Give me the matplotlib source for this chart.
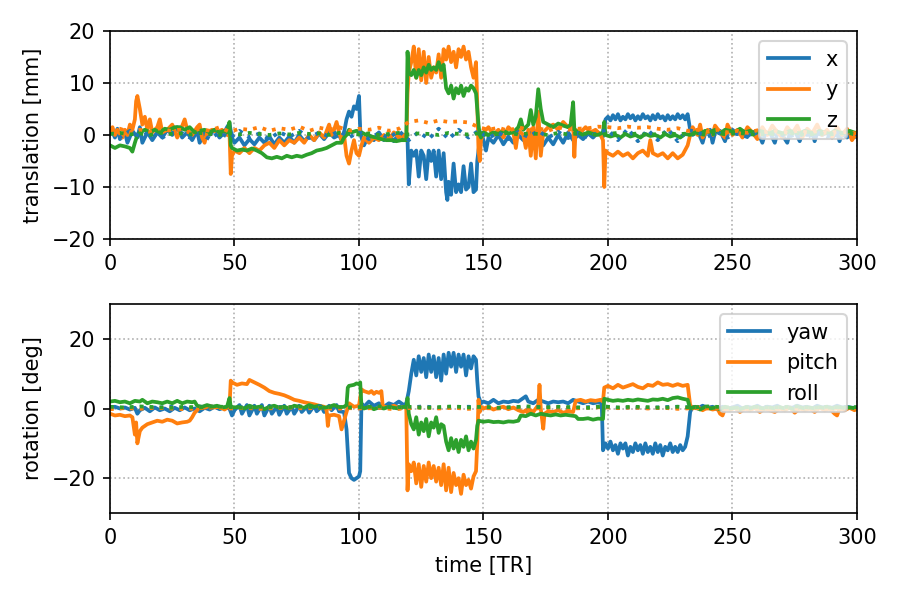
import numpy as np
import matplotlib
matplotlib.use('Agg')
import matplotlib.pyplot as plt

# estimated translation (time [TR], value [mm])
x_pts = [(0, 1.0), (1, 0.5), (2, -0.5), (3, 1.2), (4, -0.8), (6, 0.5), (7, -1.5), (9, 0.8), (11, -0.5),
         (12, 1.5), (13, -1.5), (15, 0.5), (17, -1.0), (19, 0.5), (21, -0.5), (23, 1.0), (25, 0.0),
         (27, 1.5), (29, -0.5), (31, 0.5), (33, -1.0), (35, 0.8), (36, -1.5), (38, 0.5), (40, 0.0),
         (42, 1.0), (44, -0.5), (46, 0.5), (47, 1.5), (48, 2.2), (49, -0.5), (50, -1.5), (52, -0.5),
         (54, -2.0), (56, -0.8), (58, -1.8), (60, -0.5), (62, -1.5), (64, -0.3), (66, -1.8), (68, -0.5),
         (70, -1.5), (72, -0.3), (74, -1.5), (76, 0.0), (78, -1.2), (80, -0.2), (82, -1.0), (84, 0.3),
         (86, -0.8), (88, 0.5), (90, -0.5), (92, 0.0), (93, -1.0), (94, 0.5), (95, 3.0), (96, 4.5),
         (97, 3.5), (98, 5.5), (99, 5.0), (100, 7.5), (100.5, 1.0), (101, -0.5), (102, -2.0), (104, 0.0),
         (106, -1.0), (108, 0.5), (110, -1.0), (112, 0.0), (114, -1.2), (116, 0.2), (118, -0.8),
         (119, 0.0), (119.5, -1.0), (120, -9.5), (121, -3.0), (122, -4.0), (123, -3.0), (124, -8.0),
         (125, -3.0), (126, -4.0), (127, -8.5), (128, -3.0), (129, -5.0), (130, -3.0), (131, -8.0),
         (132, -3.0), (133, -8.5), (134, -3.5), (135, -11.0), (135.5, -12.5), (136, -9.0), (137, -11.5),
         (138, -5.5), (139, -11.0), (140, -9.5), (141, -11.0), (142, -6.0), (143, -10.5), (144, -10.0),
         (145, -5.5), (146, -11.0), (147, -10.5), (147.5, -5.0), (148, -3.0), (149, 0.5), (150, -1.0),
         (151, -3.0), (152, -0.5), (154, -1.5), (156, 0.0), (158, -1.8), (160, -0.3), (162, -1.5),
         (164, 0.0), (166, -1.0), (168, -0.5), (170, 1.0), (172, -0.8), (174, -2.0), (176, -0.5),
         (178, -1.8), (180, 0.0), (182, -1.5), (184, 0.5), (186, -1.0), (188, 0.0), (190, -0.8),
         (192, 0.3), (194, -0.5), (196, 0.5), (198, -0.3), (199, 3.0), (200, 3.5), (201, 2.8), (202, 3.8),
         (203, 3.0), (204, 4.0), (205, 2.8), (206, 3.5), (207, 3.0), (208, 4.0), (209, 3.2), (210, 3.8),
         (211, 2.8), (212, 3.6), (213, 3.0), (214, 4.0), (215, 3.2), (216, 3.6), (217, 2.8), (218, 3.8),
         (219, 3.0), (220, 4.0), (221, 3.2), (222, 3.6), (223, 2.8), (224, 3.8), (225, 3.0), (226, 3.6),
         (227, 3.0), (228, 4.0), (229, 3.2), (230, 3.8), (231, 3.0), (232, 4.0), (233, 1.0), (234, 0.0),
         (236, 0.8), (238, -1.5), (239, 0.3), (241, 1.0), (242, -1.5), (243, 0.5), (245, 0.8),
         (247, -1.2), (248, 0.5), (250, 1.0), (252, 0.2), (254, 0.8), (256, -0.3), (258, 0.5), (260, 0.8),
         (262, -1.5), (263, 0.0), (265, 0.5), (267, -1.5), (268, 0.3), (270, 0.0), (272, -1.5),
         (273, 0.3), (275, 0.8), (277, -1.2), (278, 0.3), (280, 0.0), (282, 0.5), (283, -1.2), (284, 0.3),
         (286, 0.0), (288, 0.5), (290, -0.5), (292, 0.3), (293, -1.2), (294, 0.3), (296, -0.5),
         (298, 0.3), (300, -0.5)]

y_pts = [(0, 0.5), (1, 1.5), (2, 0.0), (3, 1.0), (5, -0.5), (6, 1.0), (7, 0.0), (8, 2.0), (9, 1.0),
         (10, 3.0), (10.5, 6.5), (11, 7.5), (12, 5.0), (13, 2.0), (14, 3.5), (15, 1.0), (16, 3.0),
         (17, 0.5), (19, 1.5), (20, 3.0), (21, 0.5), (23, 1.0), (25, 2.0), (27, -0.5), (28, 0.5),
         (30, 3.0), (31, 1.0), (33, 0.0), (35, 1.5), (36, 2.0), (37, -0.5), (38, -1.5), (39, 0.5),
         (41, 1.0), (43, 0.5), (45, 1.0), (47, 0.0), (48, 0.5), (48.5, -7.5), (49, -4.0), (50, -3.0),
         (52, -3.5), (54, -2.5), (56, -3.5), (58, -2.5), (60, -3.0), (62, -2.0), (64, -1.5), (66, -2.5),
         (68, -1.0), (70, -2.0), (72, -1.0), (74, -1.5), (76, -0.5), (78, -1.5), (80, 0.0), (82, -1.0),
         (84, 0.5), (86, -0.5), (88, 2.0), (89, 0.0), (90, 1.0), (91, 2.5), (92, 0.5), (93, -1.0),
         (94, 0.0), (95, -4.0), (96, -5.5), (97, -3.0), (98, -1.0), (99, -3.5), (100, -4.0), (101, -2.0),
         (102, -0.5), (104, -1.5), (106, -0.5), (108, -1.0), (110, 0.0), (112, -1.0), (114, 0.5),
         (116, -0.5), (118, 0.0), (119, -1.0), (119.5, 8.0), (120, 12.0), (121, 14.0), (122, 17.0),
         (123, 11.0), (124, 16.5), (125, 10.5), (126, 16.0), (127, 10.0), (128, 15.0), (129, 11.0),
         (130, 13.0), (131, 12.0), (132, 15.5), (133, 11.0), (134, 16.5), (135, 14.5), (136, 17.0),
         (137, 14.0), (138, 16.0), (139, 13.0), (140, 16.5), (141, 15.0), (142, 17.0), (143, 14.5),
         (144, 16.0), (145, 13.0), (146, 11.0), (147, 14.0), (147.5, 6.0), (148, -3.0), (148.5, -5.0),
         (149, -1.0), (150, 0.5), (152, 1.5), (154, 0.0), (156, 1.0), (158, -0.5), (160, 1.5), (162, 0.5),
         (163, -2.5), (164, 1.0), (166, 0.0), (167, -2.5), (168, 1.0), (169, -4.0), (170, 1.5),
         (171, -4.5), (172, 4.5), (173, -4.0), (174, 0.5), (176, 1.5), (178, 2.0), (180, 1.0), (182, 2.5),
         (184, 1.5), (186, 2.0), (186.5, -4.2), (187, 1.0), (189, 0.5), (191, 1.5), (193, 0.5), (195, 1.0),
         (197, 0.0), (198, -1.0), (198.5, -10.0), (199, -3.0), (200, -3.5), (202, -4.0), (204, -3.2),
         (206, -4.0), (208, -3.5), (210, -4.5), (212, -3.5), (214, -3.0), (216, -4.0), (217, -1.0),
         (218, -3.5), (220, -4.0), (222, -3.5), (224, -4.5), (226, -3.5), (228, -4.5), (230, -3.8),
         (232, -2.0), (233, 0.0), (234, 1.5), (236, 0.0), (237, 2.0), (238, -0.5), (240, 1.0), (242, 0.0),
         (243, 1.8), (245, 0.5), (247, -0.5), (248, 2.0), (250, 0.0), (252, 1.0), (254, -0.5), (256, 1.5),
         (258, 0.5), (260, -0.8), (262, 1.5), (264, 0.0), (266, 1.8), (268, 0.5), (270, -0.5), (272, 1.5),
         (274, 0.3), (276, 1.8), (278, -0.5), (280, 1.2), (282, 0.3), (284, 2.0), (286, 0.0), (288, 1.0),
         (290, -0.5), (292, 1.5), (294, 0.0), (296, 1.2), (298, -1.0), (300, 0.5)]

z_pts = [(0, -2.0), (2, -2.5), (4, -2.0), (6, -2.2), (8, -2.5), (9, -3.2), (10, -1.5), (11, 0.0),
         (12, 0.5), (14, 1.0), (16, 0.5), (18, 1.0), (20, 0.5), (22, 1.2), (24, 1.0), (26, 1.5),
         (28, 1.5), (30, 1.0), (32, 1.5), (34, 0.5), (36, 0.8), (38, 1.0), (40, 0.5), (42, 1.0), (44, 0.5),
         (46, 0.8), (47, 0.5), (48, 2.5), (48.5, -2.0), (49, -2.5), (51, -3.0), (53, -2.8), (55, -3.0),
         (57, -2.6), (59, -3.0), (61, -3.5), (63, -4.3), (65, -4.5), (67, -4.2), (69, -4.5), (71, -4.0),
         (73, -4.3), (75, -4.0), (77, -4.2), (79, -3.8), (81, -3.5), (83, -3.0), (85, -2.8), (87, -2.5),
         (89, -2.0), (91, -1.5), (93, -1.5), (94, -0.5), (95, 0.0), (96, 1.0), (97, 0.5), (99, 0.8),
         (101, 0.5), (103, 0.0), (105, -0.3), (107, -0.5), (109, -0.8), (111, -1.0), (113, -1.0),
         (115, -1.2), (117, -1.0), (119, -1.0), (119.5, 16.0), (120, 12.0), (121, 11.5), (122, 12.5),
         (123, 11.0), (124, 12.5), (125, 11.5), (126, 13.0), (127, 12.0), (128, 13.5), (129, 12.5),
         (130, 13.0), (131, 12.5), (132, 14.0), (133, 12.5), (134, 13.5), (135, 9.0), (136, 8.0),
         (137, 9.5), (138, 7.0), (139, 9.0), (140, 8.0), (141, 9.5), (142, 7.5), (143, 9.0), (144, 8.5),
         (145, 9.5), (146, 9.0), (147, 8.0), (148, 2.0), (148.5, 0.0), (149, -0.5), (150, 0.5), (152, 0.0),
         (154, 0.5), (156, 0.2), (158, 0.8), (160, 0.3), (162, 0.5), (164, 1.5), (165, 3.0), (166, 1.0),
         (168, 2.0), (169, 4.8), (170, 2.0), (171, 3.5), (172, 8.8), (173, 5.0), (174, 2.5), (176, 2.0),
         (178, 1.5), (180, 2.2), (182, 1.8), (184, 1.5), (185, 2.0), (186, 6.3), (186.5, 1.0), (188, 0.5),
         (190, 0.0), (192, 0.5), (194, 0.2), (196, 0.0), (198, 0.5), (198.5, 2.5), (199, 0.0),
         (201, -0.3), (203, 0.0), (205, -0.5), (207, 0.2), (209, -0.3), (211, 0.0), (213, -0.5),
         (215, 0.2), (217, -0.2), (219, 0.0), (221, -0.5), (223, 0.2), (225, -0.3), (227, 0.0),
         (229, -0.5), (231, 0.2), (233, 0.0), (235, 0.5), (237, 0.2), (239, 0.8), (241, 0.5), (243, 1.0),
         (245, 0.3), (247, 1.0), (249, 0.8), (251, 0.5), (253, 1.2), (255, 0.5), (257, 0.8), (259, 0.3),
         (261, 0.8), (263, 0.5), (265, 0.3), (267, 0.8), (269, 0.5), (271, 0.2), (273, 0.8), (275, 0.5),
         (277, 0.3), (279, 0.8), (281, 0.5), (283, 0.3), (285, 0.8), (287, 0.5), (289, 0.2), (291, 0.8),
         (293, 0.5), (295, 0.3), (297, 0.8), (300, 0.3)]

# estimated rotation (time [TR], value [deg])
yaw_pts = [(0, 0.3), (2, 0.5), (4, 0.0), (6, 0.3), (8, -0.3), (10, 0.2), (11, -1.5), (12, -0.5),
           (14, 0.2), (16, -0.8), (18, 0.3), (20, -0.5), (22, 0.0), (24, -0.8), (26, 0.2), (28, -0.5),
           (30, 0.3), (32, -0.5), (34, 0.0), (36, -0.8), (38, 0.2), (40, -0.3), (42, 0.5), (44, -0.2),
           (46, 0.3), (48, 0.0), (49, -2.0), (50, -0.5), (52, 1.0), (53, -1.5), (55, 1.0), (56, -2.0),
           (58, 0.8), (59, -1.5), (61, 1.0), (62, -2.0), (64, 0.8), (65, -1.5), (67, 0.5), (68, -1.8),
           (70, 0.8), (71, -1.5), (73, 0.5), (74, -1.5), (76, 0.8), (77, -1.0), (79, 0.5), (80, -1.2),
           (82, 0.8), (83, -0.8), (85, 0.5), (86, -1.0), (88, 0.8), (89, -0.5), (91, 1.0), (92, -0.8),
           (94, -1.0), (95, -6.0), (96, -18.5), (97, -20.0), (98, -20.5), (99, -20.0), (100, -19.5),
           (100.5, -18.0), (101, 1.5), (102, 0.5), (104, 2.0), (106, 0.8), (108, 1.5), (110, 0.5),
           (112, 1.5), (114, 1.0), (116, 2.0), (118, 1.0), (119, 1.5), (120, 5.0), (121, 10.0),
           (122, 14.0), (123, 9.5), (124, 15.0), (125, 10.5), (126, 14.5), (127, 9.0), (128, 15.5),
           (129, 10.5), (130, 15.0), (131, 9.0), (132, 14.5), (133, 8.0), (134, 15.5), (135, 10.0),
           (136, 16.0), (137, 12.0), (138, 16.0), (139, 10.5), (140, 15.5), (141, 12.0), (142, 15.5),
           (143, 9.5), (144, 15.0), (145, 11.5), (146, 15.0), (147, 14.0), (147.5, 8.0), (148, 3.5),
           (149, 1.5), (150, 2.0), (152, 1.5), (154, 2.5), (156, 1.5), (158, 2.0), (160, 1.8), (162, 2.2),
           (164, 2.0), (166, 3.0), (167, 3.5), (168, 2.0), (170, 1.5), (172, 2.5), (174, 2.0), (176, 1.5),
           (178, 2.0), (180, 1.8), (182, 2.0), (184, 1.5), (186, 2.5), (188, 2.0), (190, 1.5), (192, 2.0),
           (194, 1.5), (196, 1.8), (197.5, 1.5), (198, -12.0), (199, -10.0), (200, -11.5), (201, -9.5),
           (202, -12.0), (203, -10.5), (204, -13.0), (205, -10.0), (206, -11.5), (207, -10.0),
           (208, -13.5), (209, -11.0), (210, -12.5), (211, -10.0), (212, -12.0), (213, -10.5),
           (214, -13.0), (215, -10.0), (216, -12.5), (217, -11.0), (218, -13.0), (219, -10.0),
           (220, -12.5), (221, -10.5), (222, -13.5), (223, -11.0), (224, -12.0), (225, -10.0),
           (226, -12.5), (227, -11.0), (228, -12.5), (229, -10.5), (230, -12.0), (231, -11.0), (232, -8.0),
           (233, -1.0), (234, 0.5), (236, 0.0), (238, 0.8), (240, 0.2), (242, 0.5), (244, -0.3), (246, 0.5),
           (248, 0.0), (250, 0.3), (252, 0.8), (254, 0.0), (256, 0.5), (258, 0.2), (260, 0.8), (262, 0.0),
           (264, 0.5), (266, 0.3), (268, 0.8), (270, 0.0), (272, 0.5), (274, 0.2), (276, 0.8), (278, 0.3),
           (280, 0.5), (282, 0.0), (284, 0.8), (286, 0.3), (288, 0.5), (290, 0.2), (292, 0.8), (294, 0.3),
           (296, 0.5), (298, 0.2), (300, 0.3)]

pitch_pts = [(0, -1.5), (2, -2.0), (4, -1.8), (6, -2.2), (8, -2.0), (9, -2.5), (10, -7.5), (10.5, -4.0),
             (11, -10.0), (12, -6.5), (13, -5.5), (15, -4.5), (17, -4.0), (19, -3.5), (21, -3.8),
             (23, -3.2), (25, -3.5), (27, -4.3), (29, -4.0), (31, -3.8), (32, -3.5), (33, -2.5),
             (34, -1.2), (35, -0.5), (36, 0.5), (38, 0.2), (40, 0.8), (42, 0.3), (44, 0.5), (46, -0.3),
             (47, 0.2), (48, 0.5), (48.5, 8.0), (49, 7.5), (51, 6.8), (53, 7.2), (55, 7.0), (56, 8.2),
             (58, 7.5), (60, 6.8), (62, 6.0), (64, 5.0), (66, 4.5), (68, 4.2), (70, 3.8), (72, 3.2),
             (74, 2.5), (76, 2.2), (78, 1.8), (80, 1.5), (82, 1.2), (84, 0.8), (86, 0.5), (87, -0.5),
             (87.5, -5.0), (88, -2.0), (90, -1.8), (91, -2.0), (92, -2.2), (93, -6.0), (94, -3.5),
             (95, -1.0), (96, 1.5), (98, 0.5), (100, 0.8), (101, 5.5), (102, 5.0), (104, 4.5), (105, 5.0),
             (106, 4.2), (107, 4.8), (108, 4.5), (109, 5.0), (109.5, 1.0), (110, 0.5), (112, 0.3),
             (114, 0.8), (116, 0.2), (118, 0.5), (119, 0.0), (119.5, -23.5), (120, -16.0), (121, -18.0),
             (122, -15.5), (123, -21.5), (124, -16.0), (125, -22.5), (126, -16.5), (127, -21.0),
             (128, -15.5), (129, -20.0), (130, -16.5), (131, -21.0), (132, -17.0), (133, -22.0),
             (134, -16.0), (135, -23.5), (136, -17.0), (137, -24.0), (138, -18.5), (139, -22.0),
             (140, -20.0), (141, -24.5), (142, -19.0), (143, -22.0), (144, -20.5), (145, -23.0),
             (146, -19.5), (147, -18.0), (147.5, -10.0), (148, 2.5), (148.5, -1.0), (149, 0.5), (150, 0.0),
             (152, 0.5), (154, -0.3), (156, 0.2), (158, 0.5), (160, -0.2), (162, 0.3), (164, -0.5),
             (166, -1.0), (167, -0.5), (168, -1.5), (169, -0.5), (170, -1.0), (171, 0.0), (172, 1.0),
             (172.5, 6.8), (173, 0.0), (174, -5.8), (174.5, -1.5), (176, -0.8), (178, -1.0), (180, -0.5),
             (182, -1.2), (184, -0.8), (186, -1.0), (187, 2.2), (189, 2.5), (191, 2.0), (193, 2.4),
             (195, 2.2), (197, 2.5), (198, 2.0), (198.5, 6.0), (200, 6.5), (202, 5.8), (204, 6.8),
             (206, 6.0), (208, 6.5), (210, 7.0), (212, 6.2), (214, 5.8), (216, 6.8), (218, 6.5), (220, 7.5),
             (222, 6.8), (224, 7.0), (226, 6.5), (228, 7.0), (230, 6.5), (232, 6.8), (233, 1.0), (234, 0.0),
             (236, 0.5), (238, -0.5), (240, 0.3), (242, -0.3), (244, 0.0), (245, -1.5), (246, -2.0),
             (247, 0.0), (249, -0.5), (251, 0.3), (253, -1.0), (255, 0.0), (257, -0.5), (259, 0.2),
             (261, -1.0), (263, 0.0), (265, -0.5), (267, -1.0), (269, 0.0), (271, -0.5), (273, 0.3),
             (275, -1.2), (277, 0.0), (279, -0.5), (281, 0.0), (283, -1.0), (285, 0.2), (287, -0.5),
             (289, 0.0), (291, -1.5), (292, -2.0), (293, 0.0), (295, -0.5), (297, 0.2), (299, -0.5),
             (300, 0.0)]

roll_pts = [(0, 2.0), (2, 2.2), (4, 1.8), (6, 2.0), (8, 1.5), (10, 2.2), (12, 2.0), (13, 2.5), (15, 1.5),
            (17, 2.0), (19, 1.8), (21, 1.5), (23, 2.0), (25, 1.5), (27, 2.2), (29, 1.5), (31, 2.0),
            (33, 1.8), (34, 2.0), (35, 0.8), (37, 0.5), (39, 1.0), (41, 0.5), (43, 0.8), (45, 0.3),
            (47, 0.5), (48, 3.0), (48.5, 0.5), (50, 0.3), (52, 0.5), (54, 0.0), (56, 0.8), (58, 0.3),
            (60, 0.5), (62, -0.2), (64, 0.5), (66, 0.8), (68, 0.2), (70, 0.5), (72, 0.0), (74, 0.8),
            (76, 0.5), (78, 0.2), (80, 1.0), (82, 0.5), (84, 0.8), (86, 0.2), (88, 0.5), (90, 1.0),
            (92, 0.3), (94, 0.5), (95, 1.0), (95.5, 6.0), (96, 6.5), (98, 6.8), (99, 7.2), (100, 7.0),
            (100.5, 7.5), (101, 0.5), (102, 0.0), (104, 0.5), (106, -0.2), (108, 0.3), (110, 0.0),
            (112, 0.5), (114, 0.2), (116, 0.0), (118, 0.5), (119, 0.3), (119.5, 3.0), (120, -1.5),
            (121, -4.5), (122, -6.0), (123, -2.5), (124, -7.5), (125, -4.0), (126, -6.5), (127, -3.0),
            (128, -8.0), (129, -4.0), (130, -5.5), (131, -2.5), (132, -7.0), (133, -4.5), (134, -5.0),
            (135, -9.5), (136, -12.0), (137, -8.5), (138, -11.5), (139, -9.0), (140, -12.5), (141, -9.0),
            (142, -11.0), (143, -8.0), (144, -12.0), (145, -9.5), (146, -11.5), (147, -9.0), (147.5, -5.0),
            (148, -3.5), (150, -3.8), (152, -3.6), (154, -3.9), (156, -3.8), (158, -4.0), (160, -3.7),
            (162, -3.8), (164, -3.5), (165, -2.0), (167, -2.2), (169, -1.5), (171, -2.0), (173, -1.5),
            (175, -1.8), (177, -2.0), (179, -1.7), (181, -2.0), (183, -1.8), (185, -2.0), (187, -2.2),
            (188, -3.0), (190, -3.0), (192, -2.8), (194, -3.2), (196, -2.9), (198, -3.0), (198.5, 2.8),
            (200, 2.5), (202, 2.2), (204, 2.4), (206, 2.2), (208, 2.5), (210, 2.3), (212, 2.6), (214, 2.4),
            (216, 2.2), (218, 2.6), (220, 2.5), (222, 2.8), (224, 2.4), (226, 3.0), (228, 3.2), (230, 2.8),
            (232, 2.5), (233, 0.0), (235, 0.5), (237, -0.3), (239, 0.5), (241, 0.0), (243, 0.3), (245, -0.2),
            (247, 0.5), (249, 0.0), (251, 0.2), (253, -0.2), (255, 0.3), (257, 0.0), (259, 0.5), (261, 0.2),
            (263, 0.0), (265, 0.3), (267, 0.0), (269, 0.4), (271, 0.0), (273, 0.2), (275, -0.2), (277, 0.4),
            (279, 0.0), (281, 0.3), (283, 0.0), (285, 0.4), (287, 0.1), (289, 0.3), (291, 0.0), (293, 0.4),
            (295, 0.1), (297, 0.3), (300, 0.0)]

# true motion (dotted), sampled evenly over 0..300 TR
x_true = [0.5, -0.5, 0.8, -0.3, 0.5, -0.8, 0.3, 0.6, -0.5, 0.4, -0.8, 0.5, -0.6, 0.8, -0.5, 0.3, -0.8, 0.6,
          -0.4, 0.8, -0.6, 0.5, -0.3, 0.8, -0.5, 0.6, -0.8, 0.4, -0.6, 0.8, -1.0, 0.6, -0.8, 1.2, -0.8, 1.0,
          -0.5, 0.8, -0.6, 0.5, -0.8, 0.6, -0.4, 0.8, -0.5, 0.6, -0.6, 0.4, -0.5, 0.5, 1.0, -1.0, 1.2, -1.2,
          1.0, -1.0, 1.2, -1.2, 1.0, 0.5, -0.3, 0.5, -0.5, 0.3, -0.4, 0.5, -0.3, 0.4, -0.5, 0.3, -0.4, 0.5,
          -0.3, 0.4, -0.3, 0.2]
y_true = [0.8, 1.2, 0.5, 1.0, 0.6, 1.3, 0.8, 1.0, 0.5, 1.2, 0.8, 1.5, 0.6, 1.2, 1.0, 1.5, 0.8, 1.3, 1.0,
          1.6, 0.8, 1.4, 1.0, 1.5, 0.8, 1.2, 1.0, 1.4, 0.8, 1.2, 2.5, 2.8, 2.3, 2.8, 2.5, 2.6, 2.4, 1.5,
          1.0, 1.4, 0.8, 1.5, 1.0, 1.3, 0.8, 1.5, 1.0, 1.2, 1.3, 1.6, 1.5, 1.3, 1.6, 1.4, 1.5, 1.2, 1.0,
          1.3, 0.8, 1.0, 0.6, 1.0, 0.5, 0.8, 0.4, 0.9, 0.5, 0.8, 0.4, 0.8, 0.5, 0.7, 0.4, 0.6, 0.5, 0.3]
z_true = [0.2, 0.4, 0.1, 0.3, 0.0, 0.4, 0.2, 0.3, 0.1, 0.4, 0.2, 0.0, 0.3, 0.1, 0.4, 0.2, 0.0, 0.3, 0.1,
          0.4, 0.2, 0.3, 0.0, 0.4, 0.2, 0.1, 0.3, 0.0, 0.2, 0.4, 0.1, 0.3, 0.2, 0.0, 0.4, 0.2, 0.1, 0.3,
          0.0, 0.2, 0.4, 0.1, 0.3, 0.2, 0.0, 0.4, 0.1, 0.3, 0.2, 0.0, 0.2, 0.4, 0.1, 0.3, 0.0, 0.2, 0.4,
          0.1, 0.3, 0.2, 0.0, 0.3, 0.1, 0.4, 0.2, 0.0, 0.3, 0.1, 0.4, 0.2, 0.0, 0.3, 0.1, 0.2, 0.4, 0.1]
yaw_true = [0.3, 0.1, 0.4, 0.2, 0.5, 0.1, 0.3, 0.6, 0.2, 0.4, 0.1, 0.5, 0.3, 0.2, 0.6, 0.3, 0.1, 0.4, 0.2,
            0.5, 0.3, 0.6, 0.2, 0.4, 0.5, 0.3, 0.1, 0.4, 0.2, 0.5, 0.3, 0.1, 0.4, 0.6, 0.2, 0.3, 0.1, 0.4,
            0.5, 0.2, 0.3, 0.1, 0.4, 0.2, 0.5, 0.3, 0.1, 0.4, 0.2, 0.3, 0.1]
pitch_true = [-0.2, 0.1, -0.1, 0.2, 0.0, -0.2, 0.1, 0.3, 0.0, 0.2, -0.1, 0.1, 0.3, 0.0, 0.2, -0.1, 0.1, 0.0,
              0.2, -0.2, 0.1, 0.3, 0.0, 0.2, -0.1, 0.1, 0.0, 0.2, -0.1, 0.1, 0.3, 0.0, 0.2, 0.4, 0.1, 0.3,
              0.0, 0.2, -0.1, 0.1, 0.0, 0.2, -0.1, 0.1, 0.0, 0.2, -0.1, 0.1, 0.0, 0.1, 0.0]
roll_true = [0.5, 0.3, 0.6, 0.4, 0.2, 0.5, 0.3, 0.6, 0.4, 0.2, 0.5, 0.3, 0.4, 0.6, 0.2, 0.5, 0.3, 0.4, 0.6,
             0.3, 0.5, 0.2, 0.4, 0.6, 0.3, 0.5, 0.2, 0.4, 0.6, 0.3, 0.5, 0.4, 0.2, 0.6, 0.3, 0.5, 0.4, 0.2,
             0.5, 0.3, 0.6, 0.4, 0.2, 0.5, 0.3, 0.4, 0.6, 0.2, 0.5, 0.3, 0.4]

trans_labels = ['x', 'y', 'z']
rot_labels = ['yaw', 'pitch', 'roll']
colors = ['C0', 'C1', 'C2']

fig = plt.figure(figsize=(6, 4), dpi=150)
ax1 = fig.add_axes([0.1222, 0.6017, 0.83, 0.3467])
ax2 = fig.add_axes([0.1222, 0.145, 0.83, 0.3483])


def draw(ax, est, true, labels):
    handles = []
    for pts, lab, c in zip(est, labels, colors):
        t, v = zip(*pts)
        h, = ax.plot(t, v, color=c, lw=1.8, label=lab)
        handles.append(h)
    for vals, c in zip(true, colors):
        ax.plot(np.linspace(0, 300, len(vals)), vals, ':', color=c, lw=1.8)
    ax.set_xlim(0, 300)
    ax.grid(True, linestyle=':', color='#b0b0b0')
    ax.legend(handles=handles, loc='upper right')


draw(ax1, [x_pts, y_pts, z_pts], [x_true, y_true, z_true], trans_labels)
ax1.set_ylim(-20, 20)
ax1.set_yticks([-20, -10, 0, 10, 20])
ax1.set_ylabel('translation [mm]')

draw(ax2, [yaw_pts, pitch_pts, roll_pts], [yaw_true, pitch_true, roll_true], rot_labels)
ax2.set_ylim(-30, 30)
ax2.set_yticks([-20, 0, 20])
ax2.set_ylabel('rotation [deg]')
ax2.set_xlabel('time [TR]')

fig.savefig('out.png', dpi=150)
